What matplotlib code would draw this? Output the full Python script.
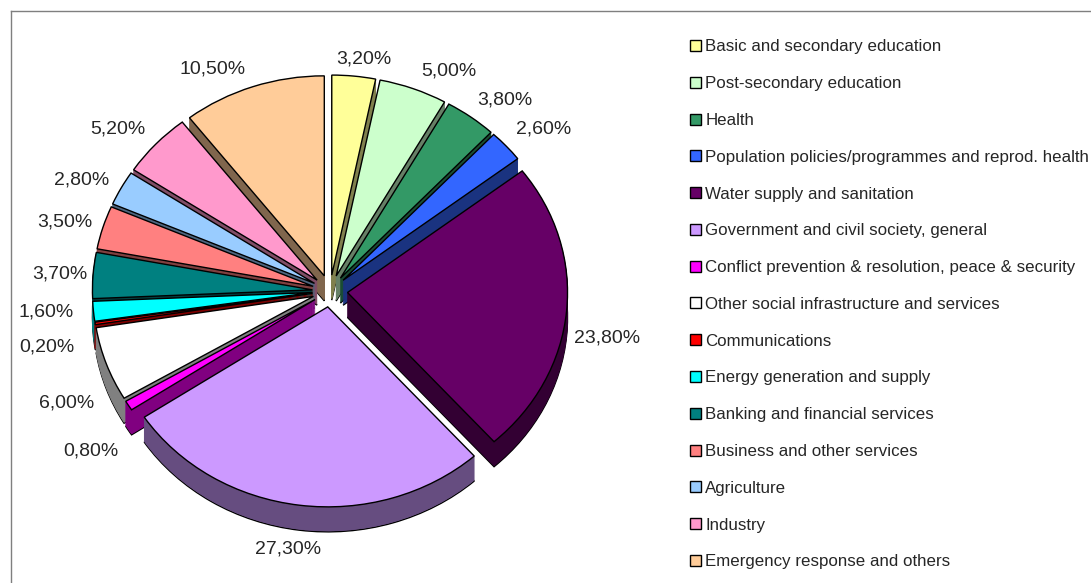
import matplotlib
matplotlib.use('Agg')
import matplotlib.pyplot as plt
from matplotlib.colors import to_rgb
import numpy as np

categories = ['Basic and secondary education', 'Post-secondary education', 'Health',
              'Population policies/programmes and reprod. health', 'Water supply and sanitation',
              'Government and civil society, general', 'Conflict prevention & resolution, peace & security',
              'Other social infrastructure and services', 'Communications', 'Energy generation and supply',
              'Banking and financial services', 'Business and other services', 'Agriculture',
              'Industry', 'Emergency response and others']
shares = [3.2, 5.0, 3.8, 2.6, 23.8, 27.3, 0.8, 6.0, 0.2, 1.6, 3.7, 3.5, 2.8, 5.2, 10.5]
colors = ['#FFFF99', '#CCFFCC', '#339966', '#3366FF', '#660066', '#CC99FF', '#FF00FF', '#FFFFFF',
          '#FF0000', '#00FFFF', '#008080', '#FF8080', '#99CCFF', '#FF99CC', '#FFCC99']

# label shift from the rim of each slice, in pixels
label_nudge = [(10, 17), (36, 18), (34, 17), (37, 17), (41, -27), (-11, -44), (-38, -45), (-40, -39),
               (-48, -24), (-47, -1), (-33, 1), (-38, 5), (-39, 8), (-38, 15), (-40, 18)]

W, H = 1091, 583
cx, cy, rx, ry = 330, 291, 220, 200   # pie centre and radii in pixels
left, top = 11, 11
depth = 25
gap = 0.08

plt.rcParams['font.family'] = ['Liberation Sans', 'DejaVu Sans']
text_col = '#262626'

fig = plt.figure(figsize=(W / 100, H / 100), dpi=100)
ax = fig.add_axes([left / W, 0, 1 - left / W, 1 - top / H])

explode = [gap] * len(shares)
side_colors = [tuple(c * 0.5 for c in to_rgb(col)) for col in colors]

# stack dark copies downwards to get the thickness of the pie
for k in range(depth, 0, -1):
    for_sides = {'linewidth': 1.0 if k == depth else 0.6}
    slices, _ = ax.pie(shares, colors=side_colors, explode=explode, startangle=90, counterclock=False,
                       center=(0, -k / ry), wedgeprops=for_sides)
    for s in slices:
        s.set_edgecolor('black' if k == depth else s.get_facecolor())

wedges, _ = ax.pie(shares, colors=colors, explode=explode, startangle=90, counterclock=False,
                   wedgeprops={'edgecolor': 'black', 'linewidth': 1.0})

ax.set_aspect('auto')
ax.set_xlim((left - cx) / rx, (W - cx) / rx)
ax.set_ylim((cy - H) / ry, (cy - top) / ry)

ax.set_frame_on(True)
ax.spines['right'].set_visible(False)
ax.spines['bottom'].set_visible(False)
for name in ['left', 'top']:
    ax.spines[name].set_color('#7f7f7f')
    ax.spines[name].set_linewidth(1.0)

for w, val, nudge in zip(wedges, shares, label_nudge):
    ang = np.deg2rad((w.theta1 + w.theta2) / 2)
    txt = ('%.2f%%' % val).replace('.', ',')
    ax.annotate(txt, xy=(1.08 * np.cos(ang), 1.08 * np.sin(ang)), xytext=nudge,
                textcoords='offset pixels', ha='center', va='center', fontsize=14,
                color=text_col, annotation_clip=False)

leg = fig.legend(wedges, categories, loc='upper left', bbox_to_anchor=(690 / W, 1 - 39.5 / H),
                 bbox_transform=fig.transFigure, frameon=False, fontsize=12.2,
                 handlelength=0.62, handleheight=0.62, handletextpad=0.28,
                 labelspacing=1.285, borderpad=0, borderaxespad=0, labelcolor=text_col)

fig.savefig('out.png', dpi=100)
